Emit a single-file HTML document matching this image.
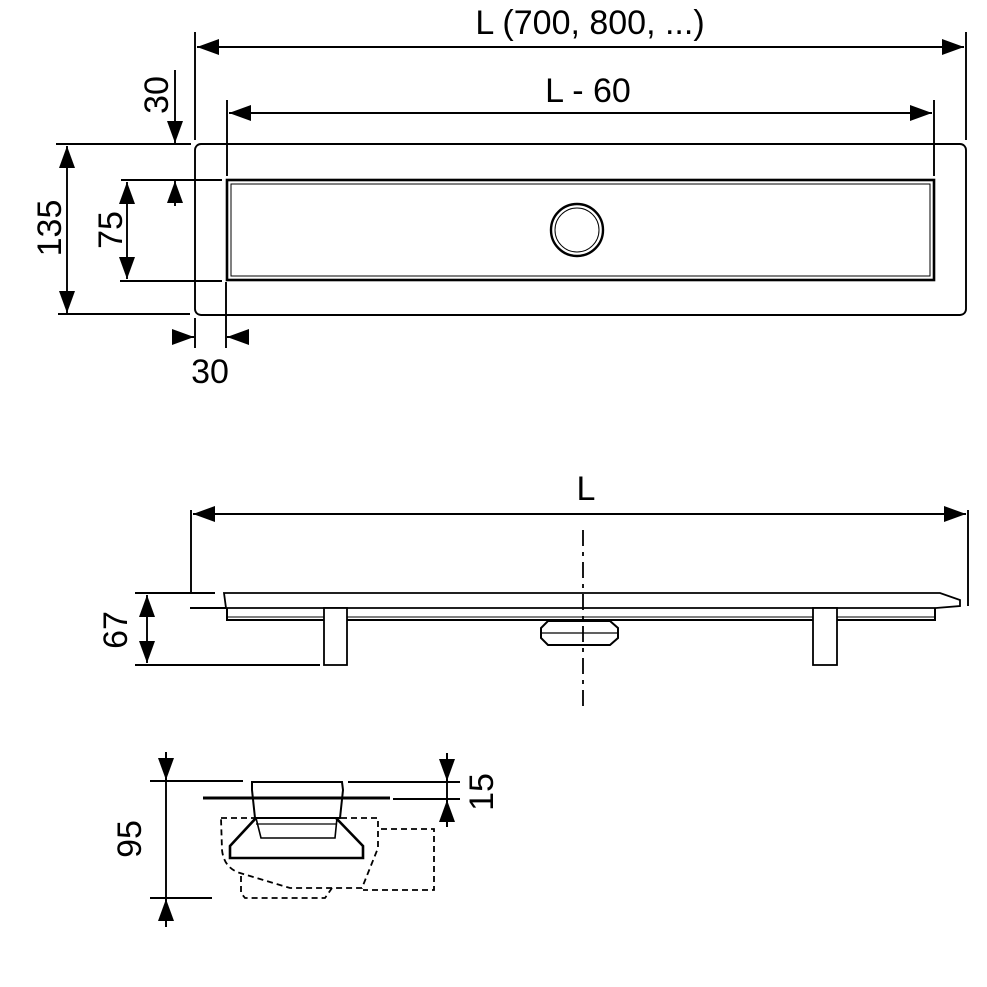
<!DOCTYPE html>
<html><head><style>body{margin:0;background:#fff}svg{display:block}text{font-family:"Liberation Sans",Arial,sans-serif;font-size:34px;fill:#000}</style></head><body>
<svg width="987" height="987" viewBox="0 0 987 987" xmlns="http://www.w3.org/2000/svg">
<defs>
<marker id="b" viewBox="0 0 22 16" refX="22" refY="8" markerWidth="22" markerHeight="16" markerUnits="userSpaceOnUse" orient="auto-start-reverse"><path d="M0,0 L22,8 L0,16 z"/></marker>
</defs>
<g stroke="#000" stroke-width="1.9" fill="none">
<rect x="195" y="144" width="771" height="171" rx="6"/>
<rect x="227" y="180" width="707" height="100" stroke-width="2.6"/>
<rect x="231" y="184" width="699" height="92" stroke-width="1"/>
<circle cx="577" cy="230" r="26" stroke-width="2.4"/>
<circle cx="577" cy="230" r="22" stroke-width="1"/>
<line x1="195" y1="32" x2="195" y2="140"/><line x1="966" y1="32" x2="966" y2="140"/>
<line x1="197" y1="47" x2="964" y2="47" marker-start="url(#b)" marker-end="url(#b)"/>
<line x1="227" y1="100" x2="227" y2="176"/><line x1="934" y1="100" x2="934" y2="176"/>
<line x1="229" y1="113" x2="932" y2="113" marker-start="url(#b)" marker-end="url(#b)"/>
<line x1="56" y1="144" x2="191" y2="144"/><line x1="121" y1="180" x2="222" y2="180"/>
<line x1="120" y1="281" x2="222" y2="281"/><line x1="58" y1="314" x2="190" y2="314"/>
<line x1="175" y1="70" x2="175" y2="143" marker-end="url(#b)"/>
<line x1="175" y1="206" x2="175" y2="181" marker-end="url(#b)"/>
<line x1="67" y1="146" x2="67" y2="313" marker-start="url(#b)" marker-end="url(#b)"/>
<line x1="127" y1="182" x2="127" y2="279" marker-start="url(#b)" marker-end="url(#b)"/>
<line x1="195" y1="318" x2="195" y2="348"/><line x1="226" y1="282" x2="226" y2="348"/>
<line x1="172" y1="337" x2="194" y2="337" marker-end="url(#b)"/>
<line x1="249" y1="337" x2="227" y2="337" marker-end="url(#b)"/>
<line x1="191" y1="510" x2="191" y2="592"/><line x1="968" y1="510" x2="968" y2="606"/>
<line x1="193" y1="514" x2="966" y2="514" marker-start="url(#b)" marker-end="url(#b)"/>
<path d="M224,593 L940,593 L960,600 L960,606 L936,608 L226,608 Z" stroke-width="1.8"/>
<line x1="190" y1="608" x2="226" y2="608"/>
<path d="M227,608 L227,620 L935,620 L935,608" stroke-width="2"/>
<line x1="227" y1="617" x2="935" y2="617" stroke-width="1"/>
<rect x="324" y="608" width="23" height="57" fill="#fff" stroke-width="1.8"/>
<rect x="813" y="608" width="24" height="57" fill="#fff" stroke-width="1.8"/>
<path d="M548,621 L610,621 L618,628 L618,638 L610,645 L548,645 L541,638 L541,628 Z" fill="#fff" stroke-width="2"/>
<line x1="541" y1="633" x2="618" y2="633" stroke-width="1.2"/>
<line x1="583" y1="530" x2="583" y2="712" stroke-dasharray="16,6,4,6" stroke-width="1.8"/>
<line x1="135" y1="593" x2="215" y2="593"/><line x1="135" y1="665" x2="320" y2="665"/>
<line x1="147" y1="595" x2="147" y2="663" marker-start="url(#b)" marker-end="url(#b)"/>
<line x1="150" y1="781" x2="243" y2="781"/><line x1="150" y1="898" x2="212" y2="898"/>
<line x1="166" y1="752" x2="166" y2="927"/>
<line x1="166" y1="752" x2="166" y2="780" marker-end="url(#b)"/>
<line x1="166" y1="927" x2="166" y2="899" marker-end="url(#b)"/>
<line x1="348" y1="782" x2="460" y2="782"/><line x1="393" y1="799" x2="460" y2="799"/>
<line x1="447" y1="753" x2="447" y2="827"/>
<line x1="447" y1="753" x2="447" y2="781" marker-end="url(#b)"/>
<line x1="447" y1="827" x2="447" y2="800" marker-end="url(#b)"/>
<path d="M252,782 L342,782 L343,790 L340,818 L255,818 L252,790 Z" stroke-width="2"/>
<line x1="203" y1="798" x2="390" y2="798" stroke-width="3"/>
<path d="M256,818 L337,818 L335,838 L261,838 Z" stroke-width="1.6"/>
<line x1="256" y1="824" x2="337" y2="824" stroke-width="1.2"/>
<path d="M256,818 L230,846 L230,858 L363,858 L363,846 L336,818" stroke-width="2.6"/>
<g stroke-dasharray="6,4" stroke-width="1.8">
<path d="M221,818 L378,818 L378,848 L362,888 L290,888 L240,873 Q224,868 222,850 Z"/>
<path d="M381,829 L434,829 L434,890 L363,890"/>
<path d="M241,876 L241,893 L245,898 L325,898 L332,888"/>
</g>
</g>
<text x="590" y="34" text-anchor="middle">L (700, 800, ...)</text>
<text x="588" y="102" text-anchor="middle">L - 60</text>
<text x="210" y="383" text-anchor="middle">30</text>
<text x="586" y="500" text-anchor="middle">L</text>
<text transform="translate(168,95) rotate(-90)" text-anchor="middle">30</text>
<text transform="translate(61,228) rotate(-90)" text-anchor="middle">135</text>
<text transform="translate(122,230) rotate(-90)" text-anchor="middle">75</text>
<text transform="translate(127,630) rotate(-90)" text-anchor="middle">67</text>
<text transform="translate(141,839) rotate(-90)" text-anchor="middle">95</text>
<text transform="translate(493,792) rotate(-90)" text-anchor="middle">15</text>
</svg>
</body></html>
